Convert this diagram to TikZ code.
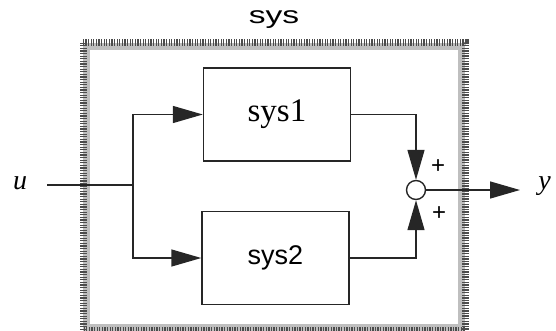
\documentclass[tikz,border=0pt]{standalone}
\usepackage{fontspec}
\setmainfont{Liberation Serif}
\newfontfamily\labelsans{Liberation Sans}
\usetikzlibrary{arrows.meta}

\begin{document}
\begin{tikzpicture}[x=1pt,y=-1pt,
  sig/.style={draw=black!85, line width=1.4pt},
  blk/.style={draw=black!85, line width=1.4pt, minimum width=147pt,
              minimum height=93pt, inner sep=0pt},
  tip/.style={-{Triangle[length=30pt,width=17pt]}},
  framebox/.style={draw=gray!50, line width=7pt, minimum width=375pt,
                   minimum height=281pt, inner sep=0pt},
  framegrain/.style={draw=black!70, line width=7pt, dash pattern=on 1.3pt off 1.3pt},
  plus/.style={font=\labelsans\fontsize{24}{26}\selectfont, inner sep=0pt}]
\useasboundingbox (0,0) rectangle (556,330);

% outer subsystem boundary (grey textured rim) and its title
\node[framebox] (sys) at (274,186.5) {};
\draw[framegrain] (sys.north west) rectangle (sys.south east);
\node[font=\labelsans\fontsize{24}{26}\selectfont] (title) at (274,20)
  {\scalebox{1.4}[1]{sys}};

% inner blocks
\node[blk, font=\fontsize{33}{36}\selectfont] (s1) at (277,114.5) {sys1};
\node[blk, font=\labelsans\fontsize{27}{30}\selectfont] (s2) at (275.5,258) {sys2};

% summing junction
\node[circle, draw=black!85, line width=1.4pt, minimum size=19pt, inner sep=0pt,
      fill=white] (sum) at (416,190) {};

% signal end points
\coordinate (in) at (47,185);
\coordinate (br) at (133,185);
\coordinate (out) at (520,190);
\node[font=\fontsize{28}{30}\selectfont\itshape] (u) at (20,183) {u};
\node[font=\fontsize{28}{30}\selectfont\itshape, inner sep=0pt, anchor=east]
  (y) at (551,186) {y};

% connections
\draw[sig] (in) -- (br);
\draw[sig, tip] (br) |- (s1.west);
\draw[sig, tip] (br) |- (s2.west);
\draw[sig, tip] (s1.east) -| (sum.north);
\draw[sig, tip] (s2.east) -| (sum.south);
\draw[sig, tip] (sum.east) -- (out);

% junction signs
\node[plus] (p1) at (438,167) {+};
\node[plus] (p2) at (439,214) {+};
\end{tikzpicture}
\end{document}
